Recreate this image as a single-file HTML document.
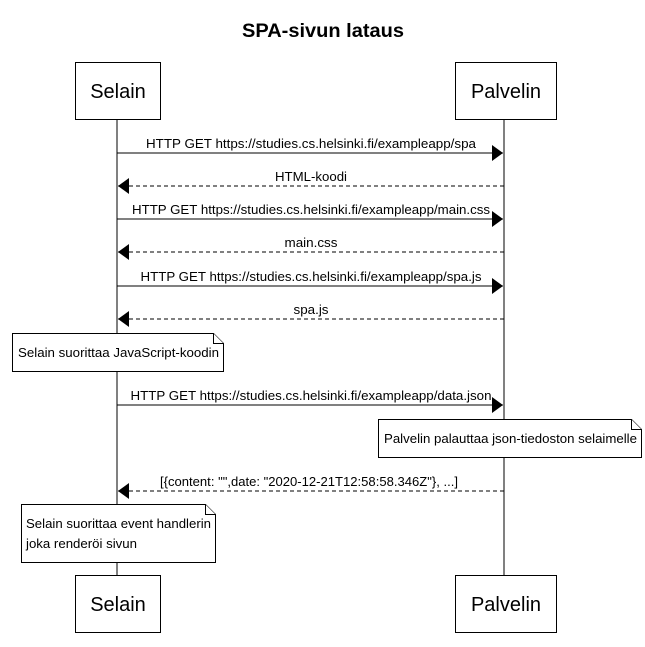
<!DOCTYPE html>
<html><head><style>body{margin:0;background:#fff}</style></head><body>
<svg width="645" height="642" viewBox="0 0 645 642" xmlns="http://www.w3.org/2000/svg" font-family="Liberation Sans, Arial, sans-serif">
<defs>
<marker id="a" markerWidth="14" markerHeight="18" refX="11" refY="8" orient="auto" markerUnits="userSpaceOnUse"><path d="M0,0 L11,8 L0,16 z" fill="#000"/></marker>
</defs>
<rect width="645" height="642" fill="#fff"/>
<text x="323" y="37" text-anchor="middle" font-size="19" font-weight="bold" textLength="162" lengthAdjust="spacingAndGlyphs">SPA-sivun lataus</text>
<line x1="117" y1="119" x2="117" y2="575" stroke="#000"/>
<line x1="504" y1="119" x2="504" y2="575" stroke="#000"/>
<g fill="#fff" stroke="#000">
<rect x="75.5" y="62.5" width="85" height="57"/>
<rect x="455.5" y="62.5" width="101" height="57"/>
<rect x="75.5" y="575.5" width="85" height="57"/>
<rect x="455.5" y="575.5" width="101" height="57"/>
</g>
<g font-size="20" text-anchor="middle">
<text x="118" y="98">Selain</text><text x="506" y="98">Palvelin</text>
<text x="118" y="611">Selain</text><text x="506" y="611">Palvelin</text>
</g>
<g stroke="#000" marker-end="url(#a)">
<line x1="117" y1="153" x2="503" y2="153"/>
<line x1="504" y1="186" x2="118" y2="186" stroke-dasharray="4,3"/>
<line x1="117" y1="219" x2="503" y2="219"/>
<line x1="504" y1="252" x2="118" y2="252" stroke-dasharray="4,3"/>
<line x1="117" y1="286" x2="503" y2="286"/>
<line x1="504" y1="319" x2="118" y2="319" stroke-dasharray="4,3"/>
<line x1="117" y1="405" x2="503" y2="405"/>
<line x1="504" y1="491" x2="118" y2="491" stroke-dasharray="4,3"/>
</g>
<g font-size="12.5" text-anchor="middle" lengthAdjust="spacingAndGlyphs">
<text x="311" y="148" textLength="330" lengthAdjust="spacingAndGlyphs">HTTP GET https://studies.cs.helsinki.fi/exampleapp/spa</text>
<text x="311" y="181" textLength="72" lengthAdjust="spacingAndGlyphs">HTML-koodi</text>
<text x="311" y="214" textLength="358" lengthAdjust="spacingAndGlyphs">HTTP GET https://studies.cs.helsinki.fi/exampleapp/main.css</text>
<text x="311" y="247" textLength="53" lengthAdjust="spacingAndGlyphs">main.css</text>
<text x="311" y="281" textLength="341" lengthAdjust="spacingAndGlyphs">HTTP GET https://studies.cs.helsinki.fi/exampleapp/spa.js</text>
<text x="311" y="314" textLength="35" lengthAdjust="spacingAndGlyphs">spa.js</text>
<text x="311" y="400" textLength="361" lengthAdjust="spacingAndGlyphs">HTTP GET https://studies.cs.helsinki.fi/exampleapp/data.json</text>
<text x="309" y="486" textLength="298" lengthAdjust="spacingAndGlyphs">[{content: "",date: "2020-12-21T12:58:58.346Z"}, ...]</text>
</g>
<g fill="#fff" stroke="#000">
<path d="M12.5,333.5 H213.5 L223.5,343.5 V371.5 H12.5 Z"/><path d="M213.5,333.5 V343.5 H223.5"/>
<path d="M378.5,419.5 H631.5 L641.5,429.5 V457.5 H378.5 Z"/><path d="M631.5,419.5 V429.5 H641.5"/>
<path d="M21.5,504.5 H205.5 L215.5,514.5 V562.5 H21.5 Z"/><path d="M205.5,504.5 V514.5 H215.5"/>
</g>
<g font-size="12.5">
<text x="18" y="357" textLength="201" lengthAdjust="spacingAndGlyphs">Selain suorittaa JavaScript-koodin</text>
<text x="384" y="443" textLength="253" lengthAdjust="spacingAndGlyphs">Palvelin palauttaa json-tiedoston selaimelle</text>
<text x="26" y="528" textLength="185" lengthAdjust="spacingAndGlyphs">Selain suorittaa event handlerin</text>
<text x="26" y="548" textLength="111" lengthAdjust="spacingAndGlyphs">joka renderöi sivun</text>
</g>
</svg>
</body></html>
